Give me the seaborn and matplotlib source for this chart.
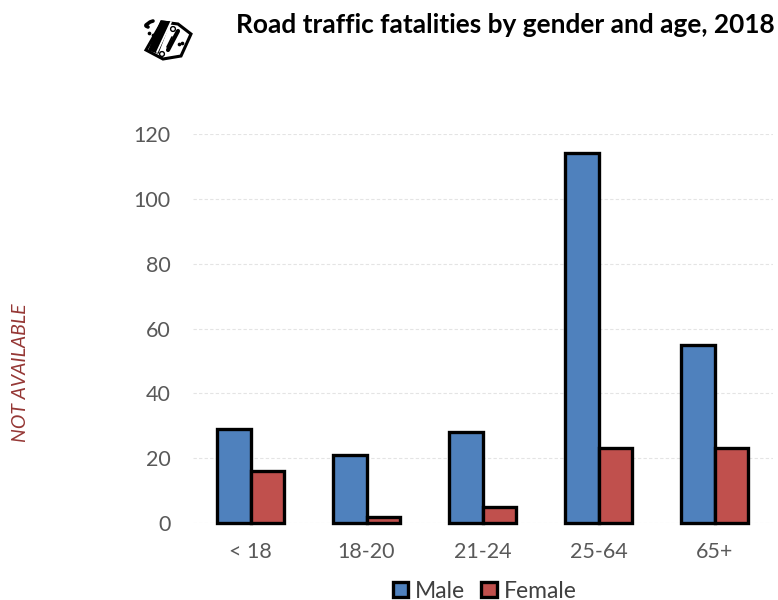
import seaborn as sns
import matplotlib.pyplot as plt
import matplotlib.patches as mpatches
import pandas as pd

ages = ['< 18', '18-20', '21-24', '25-64', '65+']
male = [29, 21, 28, 114, 55]
female = [16, 2, 5, 23, 23]
yticks = [0, 20, 40, 60, 80, 100, 120]

BLUE = '#4F81BD'
RED = '#C0504D'
GREY = '#595959'

sns.set_theme(style='white')
plt.rcParams['font.family'] = ['Lato', 'DejaVu Sans']

df = pd.DataFrame({'age': ages * 2,
                   'gender': ['Male'] * len(ages) + ['Female'] * len(ages),
                   'deaths': male + female})

fig = plt.figure(figsize=(7.78, 6.0), dpi=100)
ax = fig.add_axes([192.5 / 778, 1 - 523 / 600, 580 / 778, 389 / 600])

sns.barplot(data=df, x='age', y='deaths', hue='gender', order=ages,
            hue_order=['Male', 'Female'], palette=[BLUE, RED], width=0.57,
            gap=0, edgecolor='black', linewidth=2.4, saturation=1, ax=ax, zorder=3)

ax.set_xlim(-0.5, 4.5)
ax.set_ylim(0, 120)
ax.set_yticks(yticks)
ax.set_xlabel('')
ax.set_ylabel('')
ax.tick_params(axis='both', length=0, labelsize=15.5, labelcolor=GREY)
ax.tick_params(axis='x', pad=14)
ax.tick_params(axis='y', pad=16)
ax.grid(axis='y', color='#E4E4E4', linestyle=(0, (3, 2)), linewidth=0.8, zorder=0)
ax.set_axisbelow(True)
for s in ax.spines.values():
    s.set_visible(False)
for b in ax.patches:
    b.set_clip_on(False)

leg = ax.legend(loc='center', bbox_to_anchor=(484.5 / 778, 1 - 591 / 600),
                bbox_transform=fig.transFigure, ncol=2, frameon=False,
                fontsize=16.5, handlelength=0.68, handleheight=0.68,
                handletextpad=0.3, columnspacing=0.7, labelcolor='#404040')

fig.text(775 / 778, 1 - 25 / 600, 'Road traffic fatalities by gender and age, 2018',
         ha='right', va='center', fontsize=18.9, fontweight='bold', color='black')
fig.text(21 / 778, 1 - 373 / 600, 'NOT AVAILABLE', rotation=90, ha='center', va='center',
         fontsize=14, fontstyle='italic', color='#953735')

# little crash icon top left, in pixel coordinates of the icon box
icon = fig.add_axes([140 / 778, 1 - 65 / 600, 60 / 778, 50 / 600])
icon.set_xlim(140, 200)
icon.set_ylim(65, 15)
icon.axis('off')
icon.add_patch(mpatches.Polygon([(162, 22), (178, 24), (191, 34), (181, 56), (163, 59), (146, 50)],
                                closed=True, fc='white', ec='black', lw=2.2))
icon.add_patch(mpatches.Polygon([(161, 21), (170, 22), (158, 53), (149, 50)], closed=True, fc='black', ec='black'))
icon.plot([171, 157], [22, 52], color='white', lw=1.3)
icon.plot([178, 168], [31, 50], color='black', lw=3)
icon.plot([172, 167], [37, 47], color='black', lw=1.2)
icon.plot([175, 171], [36, 44], color='black', lw=1.2)
icon.add_patch(mpatches.Circle((162, 54), 2.4, fc='white', ec='black', lw=1))
icon.add_patch(mpatches.Circle((173, 29), 2.4, fc='white', ec='black', lw=1))
icon.plot([146, 150, 153], [25, 22, 21], color='black', lw=2.6)
icon.plot([146, 148], [26, 27], color='black', lw=2.6)
icon.scatter([149, 153, 156, 179, 182], [33, 35, 36, 44, 43], s=7, color='black', linewidths=0)

fig.savefig('out.png', dpi=100)
